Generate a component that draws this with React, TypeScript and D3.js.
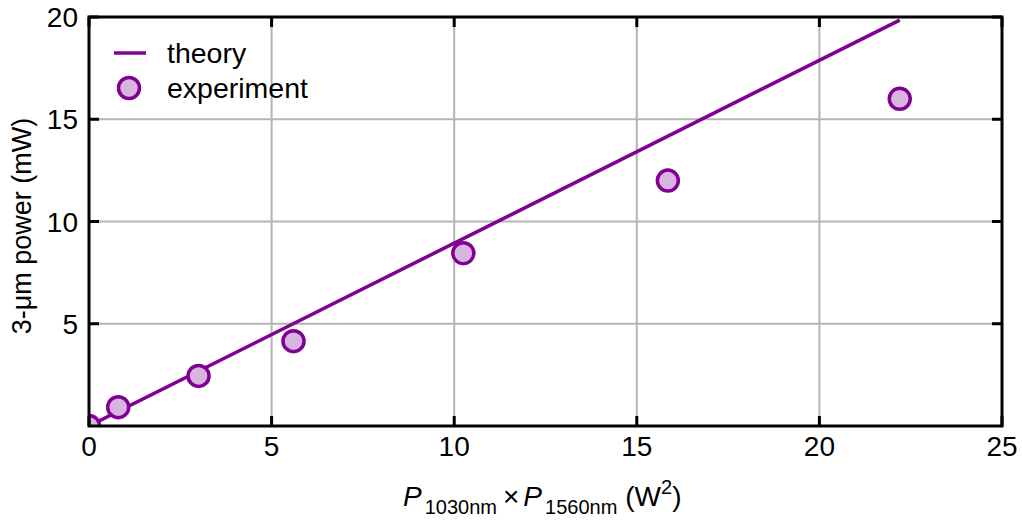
import React from "react";
import * as d3 from "d3";

const expX = [0, 0.8, 3.0, 5.6, 10.25, 15.85, 22.2];
const expY = [0, 0.92, 2.45, 4.15, 8.45, 12.0, 16.0];
const theoryX = [0, 22.2];
const theoryY = [0, 19.85];
const xTicks = [0, 5, 10, 15, 20, 25];
const yTicks = [5, 10, 15, 20];
const xGrid = [5, 10, 15, 20];
const yGrid = [5, 10, 15];

const W = 1022;
const H = 523;
const M = { left: 89, right: 1002, top: 17, bottom: 426 };
const PURPLE = "#800093";
const FILL = "#d8b4e0";
const FONT = "'Liberation Sans', Arial, sans-serif";

export default function App() {
  const x = d3.scaleLinear().domain([0, 25]).range([M.left, M.right]);
  const y = d3.scaleLinear().domain([0, 20]).range([M.bottom, M.top]);
  const line = d3
    .line<number>()
    .x((d, i) => x(theoryX[i]))
    .y((d, i) => y(theoryY[i]));
  const tick = 10;
  return (
    <svg
      width={W}
      height={H}
      style={{ position: "fixed", left: 0, top: 0, background: "#fff" }}
      fontFamily={FONT}
    >
      <defs>
        <clipPath id="plot">
          <rect x={M.left} y={M.top} width={M.right - M.left} height={M.bottom - M.top} />
        </clipPath>
      </defs>
      {xGrid.map((v) => (
        <line key={"gx" + v} x1={x(v)} x2={x(v)} y1={M.top} y2={M.bottom} stroke="#b4b4b4" strokeWidth={2} />
      ))}
      {yGrid.map((v) => (
        <line key={"gy" + v} x1={M.left} x2={M.right} y1={y(v)} y2={y(v)} stroke="#b4b4b4" strokeWidth={2} />
      ))}
      <g clipPath="url(#plot)">
        <path d={line(theoryY) || ""} fill="none" stroke={PURPLE} strokeWidth={3.5} />
        {expX.map((v, i) => (
          <circle key={"p" + i} cx={x(v)} cy={y(expY[i])} r={10.5} fill={FILL} stroke={PURPLE} strokeWidth={3.5} />
        ))}
      </g>
      {xTicks.map((v) => (
        <g key={"xt" + v}>
          <line x1={x(v)} x2={x(v)} y1={M.bottom} y2={M.bottom - tick} stroke="#000" strokeWidth={3} />
          <line x1={x(v)} x2={x(v)} y1={M.top} y2={M.top + tick} stroke="#000" strokeWidth={3} />
          <text x={x(v)} y={456} textAnchor="middle" fontSize={28}>
            {v}
          </text>
        </g>
      ))}
      {yTicks.map((v) => (
        <g key={"yt" + v}>
          <line x1={M.left} x2={M.left + tick} y1={y(v)} y2={y(v)} stroke="#000" strokeWidth={3} />
          <line x1={M.right} x2={M.right - tick} y1={y(v)} y2={y(v)} stroke="#000" strokeWidth={3} />
          <text x={78} y={y(v) + 10} textAnchor="end" fontSize={28}>
            {v}
          </text>
        </g>
      ))}
      <rect
        x={M.left}
        y={M.top}
        width={M.right - M.left}
        height={M.bottom - M.top}
        fill="none"
        stroke="#000"
        strokeWidth={3}
      />
      <line x1={114} x2={146} y1={53} y2={53} stroke={PURPLE} strokeWidth={3.5} />
      <text x={167} y={63} fontSize={28.5}>
        theory
      </text>
      <circle cx={129} cy={88} r={10.5} fill={FILL} stroke={PURPLE} strokeWidth={3.5} />
      <text x={167} y={98} fontSize={28.5}>
        experiment
      </text>
      <text transform="translate(31,226) rotate(-90)" textAnchor="middle" fontSize={27}>
        3-μm power (mW)
      </text>
      <text x={403} y={506} fontSize={28}>
        <tspan fontStyle="italic">P</tspan>
        <tspan fontSize={20} dy={8} dx={3}>1030nm</tspan>
        <tspan dy={-8} dx={6}>×</tspan>
        <tspan fontStyle="italic" dx={4}>P</tspan>
        <tspan fontSize={20} dy={8} dx={3}>1560nm</tspan>
        <tspan dy={-8} dx={8}>(W</tspan>
        <tspan fontSize={20} dy={-12}>2</tspan>
        <tspan dy={12}>)</tspan>
      </text>
    </svg>
  );
}
